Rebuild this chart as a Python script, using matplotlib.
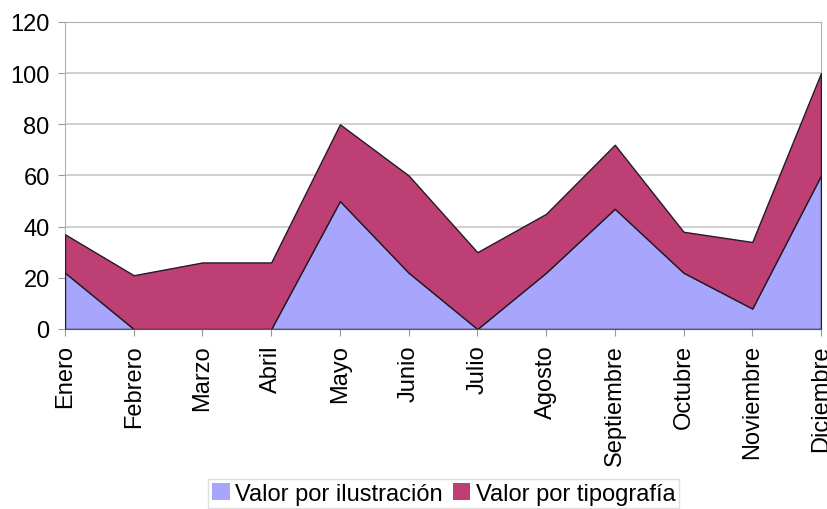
import matplotlib.pyplot as plt
from matplotlib.patches import Patch

plt.rcParams['font.family'] = ['Liberation Sans', 'DejaVu Sans']

# Monthly values for the two stacked series
meses = ['Enero', 'Febrero', 'Marzo', 'Abril', 'Mayo', 'Junio', 'Julio',
         'Agosto', 'Septiembre', 'Octubre', 'Noviembre', 'Diciembre']
ilustracion = [22, 0, 0, 0, 50, 22, 0, 22, 47, 22, 8, 60]
tipografia = [15, 21, 26, 26, 30, 38, 30, 23, 25, 16, 26, 40]

col_ilus = '#a8a6fc'
col_tipo = '#be3f73'

fig = plt.figure(figsize=(8.28, 5.10), dpi=100)
ax = fig.add_axes([0.0785, 0.353, 0.913, 0.602])

x = list(range(len(meses)))
ax.stackplot(x, ilustracion, tipografia, colors=[col_ilus, col_tipo],
             edgecolor='#231a2a', linewidth=1.0, zorder=3)

ax.set_xlim(0, len(meses) - 1)
ax.set_ylim(0, 120)
ax.set_yticks(range(0, 121, 20))
ax.set_xticks(x)
ax.set_xticklabels(meses, rotation=90, fontsize=17)
ax.tick_params(axis='y', labelsize=17, length=5, color='#999999', pad=6)
ax.tick_params(axis='x', length=5, color='#999999', pad=6)

ax.grid(axis='y', color='#c8c8c8', linewidth=1.2, zorder=0)
for side in ['left', 'right', 'top']:
    ax.spines[side].set_color('#b0b0b0')
ax.spines['bottom'].set_color('#555566')
ax.spines['bottom'].set_zorder(4)

handles = [Patch(facecolor=col_ilus, edgecolor='none', label='Valor por ilustración'),
           Patch(facecolor=col_tipo, edgecolor='none', label='Valor por tipografía')]
leg = fig.legend(handles=handles, loc='center', bbox_to_anchor=(0.536, 0.03),
                 ncol=2, fontsize=17, frameon=True, fancybox=False,
                 handlelength=0.75, handleheight=0.75, handletextpad=0.25,
                 columnspacing=0.4, borderpad=0.15, borderaxespad=0)
leg.get_frame().set_edgecolor('#d8d8d8')
leg.get_frame().set_linewidth(1.0)

fig.savefig('out.png', dpi=100)
